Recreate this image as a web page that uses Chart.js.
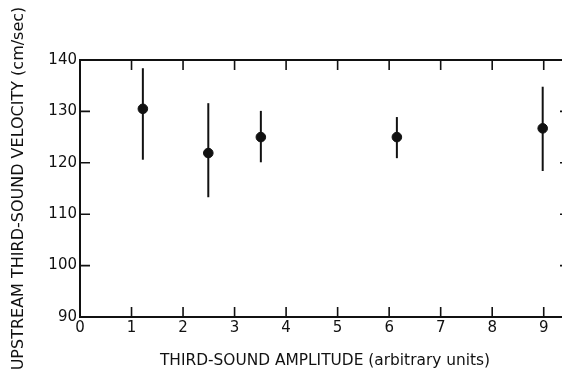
<!DOCTYPE html>
<html>
<head>
<meta charset="utf-8">
<script src="https://cdn.jsdelivr.net/npm/chart.js@4/dist/chart.umd.min.js"></script>
<style>
  html, body { margin: 0; padding: 0; background: #fff; overflow: hidden; }
  #wrap { width: 562px; height: 377px; overflow: hidden; }
</style>
</head>
<body>
<div id="wrap"><canvas id="chart" width="572" height="377"></canvas></div>
<script>
// values
var amplitude = [1.22, 2.49, 3.51, 6.15, 8.98];
var velocity  = [130.5, 121.9, 125.0, 125.0, 126.7];
var errHigh   = [138.4, 131.6, 130.1, 128.9, 134.8];
var errLow    = [120.6, 113.3, 120.1, 120.9, 118.4];
var xTicks = [0, 1, 2, 3, 4, 5, 6, 7, 8, 9];
var yTicks = [90, 100, 110, 120, 130, 140];

var ink = "#111";

var points = amplitude.map(function(a, i) {
  return { x: a, y: velocity[i] };
});

var datasets = [];
// one small line dataset per error bar
amplitude.forEach(function(a, i) {
  datasets.push({
    type: "line",
    data: [{ x: a, y: errLow[i] }, { x: a, y: errHigh[i] }],
    borderColor: ink,
    borderWidth: 2,
    pointRadius: 0,
    fill: false
  });
});
datasets.push({
  type: "scatter",
  data: points,
  backgroundColor: ink,
  borderColor: ink,
  pointRadius: 4.8,
  pointHoverRadius: 4.8
});

// frame with inward tick marks
var framePlugin = {
  id: "frame",
  beforeDatasetsDraw: function(chart) {
    var ctx = chart.ctx;
    var a = chart.chartArea;
    var x = chart.scales.x, y = chart.scales.y;
    var len = 10;
    ctx.save();
    ctx.strokeStyle = ink;
    ctx.lineWidth = 2;
    ctx.beginPath();
    ctx.moveTo(a.right, a.top);
    ctx.lineTo(a.left, a.top);
    ctx.lineTo(a.left, a.bottom);
    ctx.lineTo(a.right, a.bottom);
    ctx.lineTo(a.right, a.top);
    ctx.stroke();

    ctx.lineWidth = 1.6;
    ctx.beginPath();
    xTicks.forEach(function(v) {
      if (v === 0) return;
      var px = x.getPixelForValue(v);
      ctx.moveTo(px, a.bottom); ctx.lineTo(px, a.bottom - len);
      ctx.moveTo(px, a.top); ctx.lineTo(px, a.top + len);
    });
    yTicks.forEach(function(v) {
      if (v === 90 || v === 140) return;
      var py = y.getPixelForValue(v);
      ctx.moveTo(a.left, py); ctx.lineTo(a.left + len, py);
      ctx.moveTo(a.right, py); ctx.lineTo(a.right - len, py);
    });
    ctx.stroke();
    ctx.restore();
  }
};

var tickFont = { family: "DejaVu Sans", size: 15 };

new Chart(document.getElementById("chart").getContext("2d"), {
  type: "scatter",
  data: { datasets: datasets },
  plugins: [framePlugin],
  options: {
    responsive: false,
    animation: false,
    layout: { autoPadding: false, padding: { top: 60, right: 2, left: 0, bottom: 0 } },
    plugins: {
      legend: { display: false },
      tooltip: { enabled: false }
    },
    scales: {
      x: {
        type: "linear",
        min: 0,
        max: 9.51,
        afterBuildTicks: function(scale) {
          scale.ticks = xTicks.map(function(v) { return { value: v }; });
        },
        afterFit: function(scale) { scale.height = 60; },
        grid: { display: false, drawTicks: false },
        border: { display: false },
        ticks: { color: ink, font: tickFont, padding: 2, maxRotation: 0 },
        title: {
          display: true,
          text: "THIRD-SOUND AMPLITUDE (arbitrary units)",
          color: ink,
          font: { family: "DejaVu Sans", size: 15.4 },
          padding: { top: 0, bottom: 7 }
        }
      },
      y: {
        type: "linear",
        min: 90,
        max: 140,
        afterBuildTicks: function(scale) {
          scale.ticks = yTicks.map(function(v) { return { value: v }; });
        },
        afterFit: function(scale) { scale.width = 80; },
        grid: { display: false, drawTicks: false },
        border: { display: false },
        ticks: { color: ink, font: tickFont, padding: 3 },
        title: {
          display: true,
          text: "UPSTREAM THIRD-SOUND VELOCITY (cm/sec)",
          color: ink,
          font: { family: "DejaVu Sans", size: 16 },
          padding: { top: 9, bottom: 0 }
        }
      }
    }
  }
});
</script>
</body>
</html>
